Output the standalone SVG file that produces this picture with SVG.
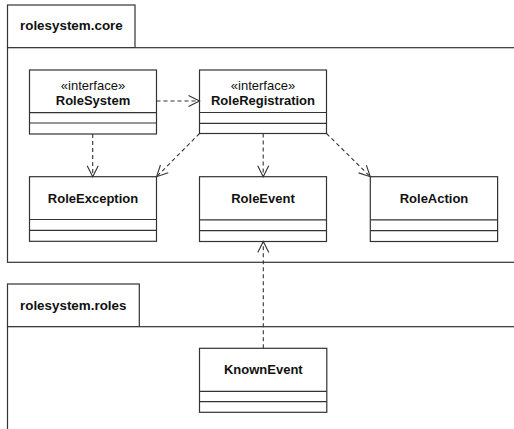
<svg xmlns="http://www.w3.org/2000/svg" width="514" height="429" viewBox="0 0 514 429">
<style>
.pkg{fill:#fff;stroke:#333;stroke-width:1.2}
.box{fill:#fff;stroke:#333;stroke-width:1.2}
.sep{stroke:#333;stroke-width:1.2}
.pname{font-family:"Liberation Sans",Arial,sans-serif;font-size:13.4px;font-weight:bold;fill:#111}
.st{font-family:"Liberation Sans",Arial,sans-serif;font-size:13px;fill:#111;text-anchor:middle}
.nm{font-family:"Liberation Sans",Arial,sans-serif;font-size:13px;font-weight:bold;fill:#111;text-anchor:middle}
.dep{fill:none;stroke:#333;stroke-width:1.1;stroke-dasharray:4 3;marker-end:url(#open)}
</style>
<defs>
<marker id="open" markerUnits="userSpaceOnUse" markerWidth="14" markerHeight="14" viewBox="-12 -7 14 14" refX="0" refY="0" orient="auto">
<path d="M-11,-5.5 L0,0 L-11,5.5" fill="none" stroke="#333" stroke-width="1.1" stroke-dasharray="none"/>
</marker>
</defs>
<rect width="514" height="429" fill="#fff"/>
<g id="pkg-core">
<rect class="pkg" x="7.5" y="5" width="127.5" height="42.7"/>
<rect class="pkg" x="7.5" y="47.7" width="530" height="214.6"/>
<text class="pname" x="20" y="30">rolesystem.core</text>
</g>
<g id="pkg-roles">
<rect class="pkg" x="7.5" y="284" width="131.8" height="42.7"/>
<rect class="pkg" x="7.5" y="326.7" width="530" height="130"/>
<text class="pname" x="20" y="309.5">rolesystem.roles</text>
</g>
<g id="RoleSystem">
<rect class="box" x="29.5" y="70" width="127" height="64"/>
<line class="sep" x1="29.5" y1="112.7" x2="156.5" y2="112.7"/>
<line class="sep" x1="29.5" y1="123" x2="156.5" y2="123"/>
<text class="st" x="93" y="90">«interface»</text>
<text class="nm" x="93" y="104.5">RoleSystem</text>
</g>
<g id="RoleRegistration">
<rect class="box" x="199.5" y="70" width="127" height="63.5"/>
<line class="sep" x1="199.5" y1="112.5" x2="326.5" y2="112.5"/>
<line class="sep" x1="199.5" y1="123.3" x2="326.5" y2="123.3"/>
<text class="st" x="263" y="90">«interface»</text>
<text class="nm" x="263" y="104.5">RoleRegistration</text>
</g>
<g id="RoleException">
<rect class="box" x="29.5" y="176.7" width="127" height="64.6"/>
<line class="sep" x1="29.5" y1="219.5" x2="156.5" y2="219.5"/>
<line class="sep" x1="29.5" y1="230.3" x2="156.5" y2="230.3"/>
<text class="nm" x="93" y="202.5">RoleException</text>
</g>
<g id="RoleEvent">
<rect class="box" x="199.5" y="176.7" width="127" height="64.8"/>
<line class="sep" x1="199.5" y1="219.8" x2="326.5" y2="219.8"/>
<line class="sep" x1="199.5" y1="230.6" x2="326.5" y2="230.6"/>
<text class="nm" x="263" y="202.5">RoleEvent</text>
</g>
<g id="RoleAction">
<rect class="box" x="370.3" y="176.7" width="127.3" height="64.8"/>
<line class="sep" x1="370.3" y1="219.8" x2="497.6" y2="219.8"/>
<line class="sep" x1="370.3" y1="230.6" x2="497.6" y2="230.6"/>
<text class="nm" x="434" y="202.5">RoleAction</text>
</g>
<g id="KnownEvent">
<rect class="box" x="199.5" y="348.3" width="127.3" height="64"/>
<line class="sep" x1="199.5" y1="391.3" x2="326.8" y2="391.3"/>
<line class="sep" x1="199.5" y1="401.7" x2="326.8" y2="401.7"/>
<text class="nm" x="263.3" y="374">KnownEvent</text>
</g>
<g id="connectors">
<path class="dep" d="M156.5,101 L199.5,101"/>
<path class="dep" d="M92.7,134 L92.7,176.7"/>
<path class="dep" d="M199.5,133.5 L156.6,176.7"/>
<path class="dep" d="M263.2,133.5 L263.2,176.7"/>
<path class="dep" d="M326.5,133.5 L370.3,176.7"/>
<path class="dep" d="M263.3,348.3 L263.3,241.5"/>
</g>
</svg>
